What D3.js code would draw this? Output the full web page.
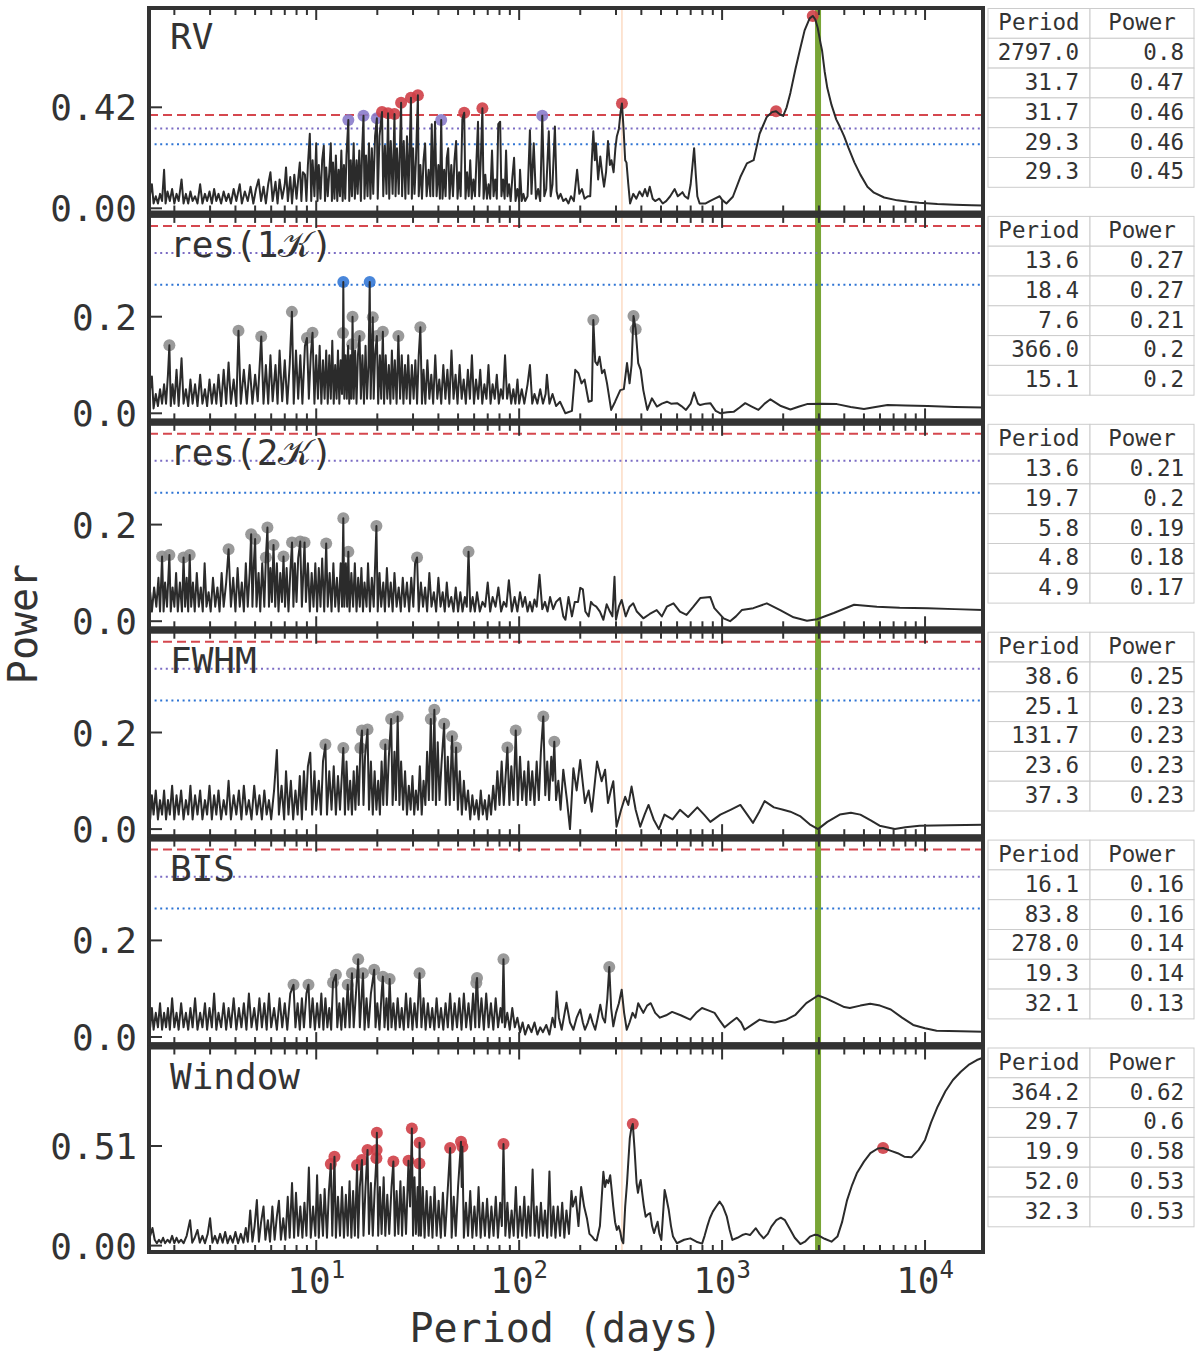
<!DOCTYPE html>
<html>
<head>
<meta charset="utf-8">
<script src="https://cdn.jsdelivr.net/npm/d3@7"></script>
<style>
  body { margin: 0; background: #fff; }
  text { font-family: "DejaVu Sans Mono", monospace; fill: #333; }
</style>
</head>
<body>
<svg id="chart" width="1200" height="1357"></svg>
<script>
// ---- periodogram curves, [period (days), power] ----
const rvCurve = [
[1.5,.03],[1.52,.06],[1.55,.10],[1.58,.02],[1.62,.05],[1.66,.02],[1.7,.06],[1.74,.03],[1.78,.16],[1.81,.02],[1.85,.07],[1.9,.03],[1.95,.08],[2.0,.02],[2.05,.06],[2.1,.03],[2.17,.12],[2.22,.02],[2.28,.06],[2.34,.02],[2.4,.07],[2.46,.03],[2.53,.05],[2.6,.02],[2.68,.10],[2.75,.02],[2.83,.06],[2.9,.03],[2.98,.07],[3.06,.02],[3.14,.08],[3.22,.03],[3.3,.06],[3.4,.02],[3.5,.07],[3.6,.03],[3.7,.06],[3.8,.02],[3.92,.08],[4.04,.03],[4.2,.10],[4.3,.02],[4.45,.07],[4.6,.03],[4.75,.09],[4.9,.02],[5.05,.08],[5.2,.12],[5.35,.03],[5.5,.09],[5.65,.02],[5.8,.10],[5.95,.15],[6.1,.03],[6.3,.11],[6.45,.02],[6.6,.12],[6.8,.04],[7.0,.10],[7.1,.17],[7.25,.03],[7.45,.13],[7.6,.02],[7.8,.14],[8.0,.04],[8.15,.12],[8.3,.19],[8.45,.03],[8.6,.15],[8.8,.14],[8.95,.03],[9.1,.18],[9.3,.31],[9.45,.03],[9.6,.20],[9.8,.05],
[10.0,.27],[10.15,.03],[10.3,.18],[10.5,.04],[10.7,.20],[10.9,.26],[11.05,.03],[11.2,.17],[11.4,.05],[11.6,.15],[11.8,.27],[11.95,.03],[12.1,.19],[12.3,.04],[12.5,.22],[12.7,.03],[12.9,.16],[13.1,.05],[13.3,.24],[13.5,.03],[13.7,.18],[13.9,.04],[14.1,.22],[14.4,.367],[14.55,.03],[14.8,.2],[15.0,.05],[15.3,.27],[15.5,.04],[15.8,.2],[16.0,.06],[16.3,.24],[16.6,.03],[16.85,.25],[17.1,.385],[17.3,.04],[17.6,.22],[17.9,.05],[18.2,.27],[18.5,.04],[18.8,.25],[19.1,.06],[19.5,.3],[19.9,.374],[20.1,.04],[20.5,.3],[21.1,.40],[21.4,.05],[21.8,.26],[22.2,.06],[22.6,.395],[22.9,.04],[23.3,.28],[23.8,.06],[24.3,.392],[24.6,.05],[25.0,.25],[25.5,.06],[26.2,.439],[26.5,.05],[27.0,.28],[27.5,.04],[28.0,.3],[28.5,.06],[29.3,.46],[29.6,.04],[30.0,.25],[30.5,.06],[31.0,.2],[31.7,.47],[32.0,.05],[32.6,.18],[33.2,.04],[33.8,.2],[34.4,.27],[35.0,.05],
[35.8,.16],[36.5,.05],[37.1,.35],[37.7,.05],[38.5,.36],[39.2,.05],[40.0,.18],[40.7,.04],[41.3,.367],[41.9,.04],[42.7,.16],[43.4,.05],[44.0,.21],[44.7,.25],[45.4,.04],[46.3,.18],[47.2,.05],[48.0,.2],[48.9,.28],[49.7,.04],[50.6,.15],[51.5,.05],[52.5,.37],[53.6,.397],[54.4,.04],[55.4,.15],[56.4,.05],[57.4,.2],[58.4,.04],[59.5,.12],[60.6,.05],[61.6,.2],[62.7,.36],[63.6,.05],[64.7,.2],[65.9,.416],[66.8,.04],[68.1,.14],[69.4,.04],[70.7,.1],[72.0,.04],[73.5,.24],[74.8,.05],[76.2,.12],[77.6,.04],[78.9,.35],[80.6,.36],[81.8,.05],[83.3,.12],[84.8,.04],[86.2,.24],[87.6,.05],[89.2,.1],[90.8,.03],[92.6,.13],[94.4,.21],[96.0,.03],[98.0,.08],
[100,.03],[101,.16],[103,.03],[105,.06],[107,.03],[110,.05],[113,.325],[115,.06],[118,.27],[121,.04],[124,.08],[127,.03],[130,.385],[133,.05],[136,.08],[140,.32],[143,.05],[146,.1],[150,.34],[153,.07],[156,.04],[160,.06],[165,.03],[170,.04],[175,.02],[180,.05],[186,.03],[193,.16],[198,.06],[204,.08],[210,.04],[218,.05],[224,.05],[228,.2],[232,.32],[236,.2],[239,.27],[245,.12],[251,.215],[256,.15],[262,.09],[268,.15],[274,.28],[280,.18],[285,.2],[292,.15],[298,.25],[303,.30],[310,.33],[316,.4],[321,.436],[327,.33],[333,.2],[338,.19],[345,.1],[352,.02],[365,.06],[378,.04],[392,.07],[405,.05],[417,.08],[428,.05],[440,.09],[455,.04],[468,.03],[490,.04],[510,.02],[530,.03],[555,.05],[584,.08],[605,.05],[625,.06],[638,.067],[655,.05],[680,.04],[700,.10],[715,.18],[728,.25],[742,.14],[755,.05],[775,.02],[796,.02],[830,.02],[870,.03],[920,.04],[973,.05],
[1000,.035],[1050,.02],[1130,.048],[1230,.13],[1325,.187],[1430,.2],[1530,.31],[1660,.38],[1760,.40],[1845,.404],[1930,.39],[2000,.384],[2080,.42],[2170,.48],[2300,.58],[2420,.66],[2550,.74],[2700,.79],[2797,.80],[2880,.785],[2960,.75],[3050,.69],[3110,.655],[3200,.57],[3300,.5],[3460,.43],[3650,.37],[3800,.34],[3990,.30],[4200,.25],[4490,.19],[4800,.14],[5200,.09],[5600,.065],[6290,.045],[7300,.033],[8300,.027],[9350,.023],[11500,.018],[14000,.015],[17000,.013],[19300,.012]
];

const res1Curve = [
[1.5,.02],[1.52,.05],[1.55,.076],[1.58,.01],[1.62,.04],[1.66,.015],[1.7,.05],[1.74,.02],[1.78,.06],[1.82,.02],[1.86,.08],[1.89,.141],[1.92,.015],[1.96,.06],[2.0,.02],[2.05,.09],[2.1,.015],[2.17,.114],[2.22,.02],[2.28,.05],[2.34,.015],[2.4,.07],[2.46,.02],[2.53,.06],[2.6,.015],[2.68,.08],[2.75,.02],[2.83,.05],[2.9,.015],[2.98,.07],[3.06,.02],[3.14,.06],[3.22,.02],[3.3,.08],[3.4,.015],[3.5,.09],[3.6,.02],[3.7,.105],[3.8,.02],[3.92,.07],[4.04,.015],[4.14,.171],[4.25,.02],[4.4,.09],[4.55,.02],[4.7,.1],[4.85,.02],[5.0,.08],[5.15,.025],[5.36,.159],[5.5,.02],[5.65,.1],[5.8,.02],[5.95,.12],[6.1,.025],[6.3,.1],[6.45,.02],[6.6,.13],[6.8,.025],[7.0,.11],[7.2,.02],[7.4,.1],[7.59,.21],[7.75,.02],[7.95,.13],[8.15,.03],[8.35,.12],[8.55,.02],[8.8,.14],[9.0,.156],[9.2,.03],[9.4,.12],[9.59,.167],[9.8,.02],
[10.0,.12],[10.2,.03],[10.4,.14],[10.6,.02],[10.8,.11],[11.0,.03],[11.2,.13],[11.4,.02],[11.6,.12],[11.8,.03],[12.0,.15],[12.2,.02],[12.4,.1],[12.6,.03],[12.8,.13],[13.0,.02],[13.2,.11],[13.4,.04],[13.55,.166],[13.6,.272],[13.75,.03],[13.95,.12],[14.15,.03],[14.35,.14],[14.55,.02],[14.75,.12],[14.9,.03],[15.05,.143],[15.1,.2],[15.3,.03],[15.55,.13],[15.8,.02],[16.05,.12],[16.35,.16],[16.6,.03],[16.9,.12],[17.2,.02],[17.5,.14],[17.8,.03],[18.1,.1],[18.35,.272],[18.55,.03],[19.0,.199],[19.2,.03],[19.5,.12],[19.9,.16],[20.2,.02],[20.6,.12],[20.9,.03],[21.3,.169],[21.6,.02],[22.0,.12],[22.4,.03],[22.8,.1],[23.2,.02],[23.6,.13],[24.0,.03],[24.4,.11],[24.9,.02],[25.4,.16],[25.9,.03],[26.4,.12],[26.9,.02],[27.4,.1],[27.9,.03],[28.4,.12],[29.0,.02],[29.6,.1],[30.2,.03],[30.8,.11],[31.4,.02],[32.0,.12],[32.6,.178],[33.2,.02],
[33.8,.09],[34.5,.02],[35.3,.11],[36.1,.03],[36.9,.08],[37.7,.02],[38.6,.12],[39.5,.03],[40.4,.07],[41.3,.02],[42.3,.1],[43.3,.03],[44.3,.09],[45.3,.02],[46.4,.13],[47.5,.03],[48.6,.08],[49.7,.02],[50.9,.1],[52.1,.03],[53.3,.07],[54.6,.02],[55.9,.09],[57.2,.03],[58.5,.12],[59.9,.02],[61.3,.07],[62.8,.03],[64.3,.09],[65.8,.02],[67.4,.06],[69,.03],[70.6,.1],[72.3,.02],[74,.06],[75.8,.03],[77.6,.08],[79.4,.02],[81.3,.05],[83.2,.03],[85.2,.12],[87.2,.03],[89.3,.06],[91.4,.02],[93.6,.05],[95.8,.02],[98.1,.07],
[100,.02],[103,.05],[106,.02],[110,.06],[113,.1],[116,.02],[119,.04],[123,.02],[127,.05],[131,.02],[135,.04],[137,.08],[141,.02],[146,.04],[152,.015],[159,.024],[169,.0],[182,.005],[189,.09],[196,.083],[203,.062],[210,.07],[220,.024],[228,.026],[232,.193],[237,.107],[243,.1],[249,.117],[256,.083],[263,.09],[271,.062],[284,.007],[297,.024],[315,.048],[328,.05],[340,.104],[350,.062],[358,.1],[366,.2015],[375,.174],[386,.104],[397,.09],[409,.048],[428,.007],[451,.031],[477,.014],[505,.02],[535,.024],[560,.02],[600,.021],[630,.015],[664,.007],[700,.02],[728,.043],[760,.02],[780,.017],[830,.02],[875,.021],[930,.005],[982,.0],
[1060,.002],[1140,.003],[1220,.012],[1300,.021],[1400,.014],[1510,.007],[1620,.02],[1730,.029],[1950,.015],[2170,.008],[2400,.014],[2620,.019],[3100,.02],[3680,.019],[4300,.013],[5000,.009],[5700,.013],[6530,.017],[8000,.016],[10300,.015],[14000,.013],[19300,.012]
];

const res2Curve = [
[1.5,.03],[1.52,.06],[1.55,.02],[1.59,.07],[1.63,.03],[1.67,.09],[1.7,.02],[1.74,.134],[1.77,.02],[1.8,.08],[1.84,.03],[1.89,.137],[1.92,.02],[1.96,.07],[2.0,.03],[2.04,.1],[2.08,.02],[2.13,.08],[2.18,.02],[2.22,.132],[2.26,.03],[2.3,.09],[2.34,.02],[2.38,.137],[2.42,.03],[2.47,.08],[2.52,.02],[2.58,.1],[2.64,.03],[2.7,.07],[2.76,.02],[2.82,.12],[2.88,.03],[2.95,.06],[3.02,.02],[3.1,.09],[3.18,.03],[3.26,.07],[3.34,.02],[3.42,.1],[3.5,.03],[3.6,.08],[3.7,.149],[3.8,.03],[3.9,.09],[4.0,.02],[4.1,.11],[4.2,.03],[4.3,.08],[4.4,.02],[4.5,.12],[4.6,.03],[4.7,.1],[4.78,.18],[4.85,.03],[4.93,.12],[5.0,.17],[5.08,.03],[5.2,.1],[5.3,.02],[5.42,.12],[5.55,.03],[5.65,.132],[5.75,.194],[5.85,.03],[5.95,.11],[6.05,.04],[6.16,.158],[6.28,.03],[6.4,.12],[6.52,.02],[6.65,.1],[6.78,.04],[6.9,.134],[7.02,.03],[7.15,.11],[7.3,.02],[7.45,.1],[7.6,.163],[7.72,.03],[7.85,.12],[8.0,.04],[8.15,.13],[8.34,.165],[8.5,.03],[8.76,.163],[8.9,.04],[9.1,.12],[9.3,.02],[9.5,.1],[9.7,.03],[9.9,.12],
[10.1,.02],[10.3,.11],[10.5,.03],[10.7,.13],[10.95,.02],[11.2,.161],[11.4,.03],[11.65,.1],[11.9,.02],[12.15,.12],[12.4,.03],[12.65,.09],[12.9,.02],[13.2,.12],[13.4,.03],[13.6,.213],[13.75,.03],[14.0,.12],[14.2,.03],[14.4,.144],[14.6,.02],[14.9,.1],[15.2,.03],[15.5,.12],[15.8,.02],[16.1,.09],[16.4,.03],[16.7,.11],[17.0,.02],[17.3,.08],[17.7,.03],[18.0,.12],[18.4,.02],[18.8,.09],[19.2,.03],[19.8,.197],[20.1,.02],[20.5,.1],[20.9,.03],[21.4,.08],[21.8,.02],[22.3,.11],[22.8,.03],[23.3,.08],[23.8,.02],[24.3,.1],[24.9,.03],[25.5,.07],[26.1,.02],[26.7,.09],[27.3,.03],[28,.08],[28.7,.02],[29.4,.09],[30.1,.03],[30.7,.12],[31.4,.132],[32,.02],[32.8,.08],[33.6,.03],[34.4,.07],[35.2,.02],[36.1,.1],[37,.03],[38,.06],[39,.02],[40,.09],[41,.03],[42,.06],[43,.02],[44,.08],[45,.03],[46.3,.05],[47.5,.02],[48.7,.07],[50,.02],[51.3,.06],[52.6,.02],[54,.05],[55.2,.03],[56.3,.144],[57.5,.02],[59,.05],[60.5,.02],[62,.06],[64,.02],[66,.04],[68,.03],[70,.08],[72,.02],[74,.05],[76.5,.03],[79,.07],[81.5,.02],[84,.04],[86.5,.03],[89,.085],[92,.02],[95,.05],[98,.02],
[101,.06],[104,.03],[107,.05],[110,.02],[113,.04],[116,.02],[119,.045],[122,.03],[126,.096],[130,.025],[134,.04],[138,.02],[142,.05],[147,.025],[152,.04],[159,.048],[165,.01],[169,.003],[175,.05],[182,.01],[188,.04],[195,.04],[200,.069],[206,.066],[212,.02],[220,.01],[226,.04],[232,.034],[240,.03],[250,.02],[260,.003],[270,.035],[280,.02],[288,.01],[295,.092],[300,.003],[310,.03],[320,.044],[335,.01],[350,.03],[365,.037],[380,.02],[409,.006],[440,.015],[476,.023],[505,.01],[534,.03],[576,.037],[620,.02],[668,.013],[722,.03],[780,.048],[875,.05],[916,.027],
[1017,.006],[1095,.0],[1170,.01],[1250,.023],[1425,.027],[1661,.037],[1933,.023],[2250,.008],[2619,.001],[2937,.004],[3550,.017],[4470,.034],[5790,.03],[7500,.028],[10300,.027],[14000,.025],[19300,.023]
];

const fwhmCurve = [
[1.5,.05],[1.52,.02],[1.55,.07],[1.58,.03],[1.62,.08],[1.66,.02],[1.7,.06],[1.74,.03],[1.78,.08],[1.82,.02],[1.86,.06],[1.9,.03],[1.95,.09],[2.0,.02],[2.05,.07],[2.1,.03],[2.16,.08],[2.22,.02],[2.28,.06],[2.34,.03],[2.4,.09],[2.46,.02],[2.53,.07],[2.6,.03],[2.68,.08],[2.75,.02],[2.83,.06],[2.9,.03],[2.98,.09],[3.06,.02],[3.14,.07],[3.22,.03],[3.3,.08],[3.4,.02],[3.5,.06],[3.6,.03],[3.7,.1],[3.8,.02],[3.92,.07],[4.04,.03],[4.16,.08],[4.28,.02],[4.4,.09],[4.53,.03],[4.66,.06],[4.8,.02],[4.95,.09],[5.1,.03],[5.25,.07],[5.4,.02],[5.55,.08],[5.7,.03],[5.85,.06],[6.0,.02],[6.2,.08],[6.4,.164],[6.55,.03],[6.75,.09],[6.95,.02],[7.1,.12],[7.3,.03],[7.5,.1],[7.7,.02],[7.9,.08],[8.1,.03],[8.3,.11],[8.5,.02],[8.7,.12],[8.9,.04],[9.1,.13],[9.35,.158],[9.55,.03],[9.8,.12],
[10.0,.04],[10.3,.1],[10.55,.03],[10.8,.14],[11.1,.175],[11.3,.03],[11.6,.12],[11.9,.04],[12.2,.13],[12.5,.03],[12.8,.11],[13.1,.04],[13.6,.168],[13.85,.03],[14.1,.14],[14.4,.04],[14.7,.1],[15.0,.03],[15.3,.12],[15.6,.04],[15.9,.13],[16.2,.05],[16.5,.168],[16.8,.204],[17.1,.05],[17.4,.15],[17.9,.206],[18.2,.04],[18.6,.14],[19.0,.03],[19.4,.12],[19.8,.04],[20.2,.1],[20.6,.03],[21.0,.14],[21.4,.05],[21.9,.175],[22.3,.05],[22.8,.15],[23.4,.228],[23.8,.05],[24.3,.16],[24.7,.06],[25.2,.233],[25.7,.05],[26.2,.14],[26.8,.04],[27.4,.12],[28,.03],[28.6,.09],[29.2,.04],[29.8,.11],[30.4,.03],[31,.08],[31.7,.04],[32.4,.13],[33.1,.03],[33.8,.1],[34.5,.05],[35.2,.16],[35.9,.06],[36.7,.228],[37.5,.06],[38.2,.247],[38.9,.05],[39.7,.18],[40.5,.06],[41.5,.14],[42.7,.218],[43.5,.05],[44.5,.15],[45.5,.05],[46.7,.192],[47.7,.06],[48.9,.169],[49.9,.04],[51,.12],[52.2,.03],[53.4,.1],[54.6,.04],[56,.08],[57.4,.02],[58.8,.07],[60.2,.03],[61.7,.06],[63.2,.02],[64.7,.08],[66.2,.03],[67.8,.06],[69.4,.02],[71,.07],[72.7,.03],[74.5,.09],[76.3,.04],[78.1,.12],[80,.05],[82,.14],[84,.05],[85.5,.1],[87.5,.169],[89.5,.05],[91.5,.13],[93.8,.06],[96.2,.204],[98.5,.05],
[101,.15],[103.5,.06],[106,.12],[108.5,.05],[111,.14],[113.5,.06],[116,.12],[119,.05],[122,.14],[125,.06],[128,.16],[131.5,.233],[134.5,.07],[137.5,.14],[140.5,.06],[144,.15],[146.5,.1],[149,.181],[152,.06],[156,.1],[160,.04],[165,.123],[172,.06],[178,.0],[185,.126],[192,.08],[200,.143],[211,.054],[220,.08],[228,.036],[242,.14],[255,.099],[265,.123],[274,.054],[283,.08],[291,.099],[302,.005],[318,.04],[333,.067],[345,.05],[358,.088],[375,.04],[395,.005],[415,.03],[434,.05],[460,.02],[488,.0],[520,.03],[570,.02],[620,.04],[680,.025],[755,.045],[815,.03],[875,.015],[980,.03],
[1100,.04],[1230,.05],[1330,.03],[1420,.013],[1520,.035],[1620,.058],[1800,.045],[2000,.04],[2170,.036],[2420,.027],[2700,.01],[2970,.0],[3300,.015],[3800,.03],[4310,.034],[4800,.03],[5400,.018],[5970,.007],[7100,.0],[8000,.004],[9400,.007],[13000,.008],[19300,.009]
];

const bisCurve = [
[1.5,.04],[1.52,.02],[1.55,.06],[1.58,.015],[1.62,.05],[1.66,.02],[1.7,.07],[1.74,.015],[1.78,.05],[1.82,.02],[1.86,.06],[1.9,.015],[1.95,.08],[2.0,.02],[2.05,.05],[2.1,.015],[2.16,.07],[2.22,.02],[2.28,.05],[2.34,.015],[2.4,.06],[2.46,.02],[2.53,.08],[2.6,.015],[2.68,.05],[2.75,.02],[2.83,.07],[2.9,.015],[2.98,.06],[3.06,.02],[3.14,.09],[3.22,.015],[3.3,.05],[3.4,.02],[3.5,.07],[3.6,.015],[3.7,.06],[3.8,.02],[3.92,.08],[4.04,.015],[4.16,.06],[4.28,.02],[4.4,.07],[4.53,.015],[4.66,.09],[4.8,.02],[4.95,.06],[5.1,.015],[5.25,.08],[5.4,.02],[5.55,.07],[5.7,.015],[5.85,.09],[6.0,.02],[6.2,.06],[6.4,.015],[6.6,.08],[6.8,.02],[7.0,.07],[7.2,.015],[7.45,.09],[7.73,.108],[7.9,.02],[8.1,.07],[8.3,.015],[8.5,.08],[8.7,.02],[8.95,.09],[9.16,.108],[9.35,.02],[9.6,.08],[9.85,.015],
[10.1,.07],[10.35,.02],[10.6,.09],[10.85,.015],[11.1,.08],[11.35,.02],[11.6,.06],[11.85,.015],[12.1,.113],[12.5,.129],[12.7,.02],[13.0,.07],[13.3,.015],[13.6,.08],[13.9,.02],[14.3,.108],[14.6,.02],[15.0,.132],[15.3,.02],[15.7,.09],[16.1,.161],[16.4,.02],[17.0,.132],[17.3,.015],[17.7,.08],[18.1,.02],[18.6,.09],[19.3,.139],[19.6,.02],[20.0,.07],[20.5,.015],[21.0,.09],[21.3,.125],[21.7,.02],[22.2,.08],[22.6,.015],[23.0,.12],[23.5,.02],[24.0,.07],[24.6,.015],[25.2,.08],[25.8,.02],[26.4,.06],[27,.015],[27.7,.09],[28.4,.02],[29.1,.08],[29.8,.015],[30.5,.07],[31.3,.02],[32.3,.132],[33,.02],[33.8,.08],[34.6,.015],[35.5,.07],[36.4,.02],[37.3,.06],[38.2,.015],[39.2,.08],[40.2,.02],[41.2,.06],[42.3,.015],[43.4,.07],[44.5,.02],[45.7,.09],[46.9,.015],[48.1,.07],[49.4,.02],[50.7,.08],[52,.015],[53.4,.09],[54.8,.02],[56.3,.07],[57.8,.015],[59.3,.09],[60.8,.02],[61.5,.112],[62,.122],[63.5,.02],[65.2,.08],[67,.015],[68.8,.09],[70.7,.02],[72.6,.07],[74.6,.015],[76.6,.08],[78.7,.02],[80.9,.06],[82.5,.03],[83.7,.161],[85,.02],[87.4,.05],[89.9,.015],[92.5,.06],[95.2,.02],[98,.04],
[101,.01],[104,.03],[107,.005],[111,.025],[115,.01],[119,.03],[123,.005],[127,.02],[131,.01],[136,.025],[141,.005],[146,.04],[150,.02],[153,.094],[157,.04],[162,.015],[166,.04],[171,.071],[178,.03],[185,.015],[192,.04],[200,.057],[206,.03],[211,.015],[218,.03],[224,.047],[230,.03],[237,.015],[244,.04],[251,.067],[258,.04],[265,.03],[272,.08],[278,.145],[284,.06],[291,.022],[300,.05],[310,.07],[320,.098],[329,.05],[339,.015],[350,.03],[362,.05],[374,.04],[386,.07],[397,.06],[409,.05],[427,.065],[445,.07],[468,.05],[494,.04],[530,.045],[567,.052],[625,.045],[697,.036],[745,.05],[796,.06],[855,.055],[918,.05],[970,.035],
[1030,.02],[1100,.03],[1180,.04],[1240,.03],[1290,.015],[1400,.025],[1530,.036],[1670,.032],[1820,.03],[2050,.035],[2300,.046],[2600,.07],[2970,.086],[3250,.08],[3600,.071],[4000,.062],[4260,.06],[4800,.065],[5370,.069],[6000,.065],[6780,.057],[7700,.04],[8740,.025],[10000,.018],[11400,.013],[15000,.012],[19300,.011]
];

const windowCurve = [
[1.5,.03],[1.53,.06],[1.56,.09],[1.6,.03],[1.64,.012],[1.68,.03],[1.72,.015],[1.76,.04],[1.8,.012],[1.85,.03],[1.9,.015],[1.95,.05],[2.0,.012],[2.05,.04],[2.1,.015],[2.16,.03],[2.22,.012],[2.3,.05],[2.39,.13],[2.45,.015],[2.52,.04],[2.6,.08],[2.67,.015],[2.75,.05],[2.83,.012],[2.92,.06],[3.0,.14],[3.08,.015],[3.17,.05],[3.26,.012],[3.36,.06],[3.46,.015],[3.56,.07],[3.66,.012],[3.77,.05],[3.88,.015],[4.0,.07],[4.12,.012],[4.25,.06],[4.38,.015],[4.5,.09],[4.6,.02],[4.73,.18],[4.85,.02],[4.97,.1],[5.1,.233],[5.22,.02],[5.35,.12],[5.5,.2],[5.62,.03],[5.78,.13],[5.92,.02],[6.08,.2],[6.24,.03],[6.4,.15],[6.55,.23],[6.7,.03],[6.88,.14],[7.05,.03],[7.24,.25],[7.4,.04],[7.6,.32],[7.78,.04],[7.95,.27],[8.15,.05],[8.35,.2],[8.55,.04],[8.75,.22],[8.95,.05],[9.2,.4],[9.4,.04],[9.65,.2],[9.9,.05],
[10.1,.36],[10.3,.04],[10.5,.26],[10.8,.05],[11.0,.29],[11.3,.04],[11.55,.28],[11.8,.418],[12.0,.05],[12.3,.455],[12.5,.04],[12.8,.25],[13.1,.05],[13.4,.3],[13.7,.04],[14.0,.26],[14.3,.05],[14.6,.33],[14.9,.04],[15.2,.28],[15.5,.05],[15.9,.413],[16.1,.04],[16.4,.3],[16.8,.438],[17.1,.05],[17.5,.3],[17.9,.49],[18.2,.06],[18.6,.32],[19.0,.05],[19.4,.28],[19.8,.447],[19.85,.49],[19.9,.578],[20.2,.05],[20.6,.3],[21.0,.06],[21.5,.35],[21.9,.05],[22.4,.26],[22.9,.06],[23.5,.3],[24.0,.43],[24.4,.05],[24.9,.28],[25.4,.06],[26.0,.33],[26.5,.05],[27.0,.3],[27.7,.06],[28.5,.435],[29.0,.2],[29.6,.60],[30.0,.05],[30.5,.35],[31.0,.06],[31.6,.3],[32.0,.05],[32.25,.42],[32.3,.527],[32.8,.05],[33.5,.3],[34.2,.04],[35,.28],[35.8,.05],[36.6,.25],[37.4,.04],[38.3,.3],[39.2,.05],[40.1,.23],[41.1,.04],[42.1,.27],[43.1,.05],[44.1,.22],[45.7,.50],[46.5,.04],[47.6,.25],[48.7,.05],[50,.3],[51.7,.532],[52.1,.3],[52.5,.506],[53.4,.04],[54.7,.22],[56,.05],[57.4,.28],[58.8,.04],[60.2,.2],[61.6,.05],[63.1,.3],[64.6,.04],[66.2,.22],[67.8,.05],[69.5,.24],[71.2,.04],[73,.2],[74.8,.05],[76.7,.25],[78.6,.04],[80.6,.22],[82.2,.1],[83.7,.52],[85.5,.05],[87.5,.22],[89.6,.04],[91.8,.18],[94,.05],[96.3,.3],[98.6,.04],
[101,.2],[103.5,.05],[106,.25],[108.6,.04],[111,.2],[113.6,.05],[116.5,.39],[119.3,.05],[122,.2],[125,.04],[128,.22],[131,.05],[134,.18],[137.5,.04],[141,.38],[144,.05],[147.5,.2],[151,.04],[155,.2],[159,.05],[163,.22],[167,.04],[171,.18],[176,.06],[181,.28],[184,.2],[190,.25],[196,.1],[202,.30],[209,.2],[216,.137],[222,.06],[229,.046],[235,.03],[241,.026],[250,.1],[260,.378],[265,.3],[270,.336],[275,.32],[281,.36],[286,.28],[291,.2],[297,.12],[303,.08],[309,.1],[315,.07],[320,.03],[326,.012],[333,.2],[340,.32],[346,.45],[351,.55],[357,.6],[363,.623],[370,.5],[379,.32],[385,.27],[391,.31],[397,.336],[405,.26],[412,.2],[420,.148],[431,.16],[442,.167],[452,.1],[462,.064],[470,.09],[481,.122],[491,.06],[502,.029],[511,.15],[521,.285],[530,.25],[546,.182],[560,.1],[573,.046],[599,.012],[650,.03],[697,.037],[747,.02],[797,.01],[820,.05],[844,.097],[870,.14],[900,.174],[935,.2],[972,.225],
[1010,.2],[1055,.148],[1090,.08],[1124,.029],[1190,.04],[1257,.054],[1310,.06],[1372,.054],[1466,.089],[1530,.06],[1601,.037],[1680,.06],[1749,.097],[1850,.13],[1946,.143],[2040,.13],[2127,.097],[2280,.04],[2430,.008],[2560,.02],[2711,.046],[2850,.055],[2964,.054],[3200,.035],[3460,.02],[3700,.046],[3900,.12],[4130,.233],[4370,.31],[4610,.37],[5000,.43],[5380,.473],[5850,.497],[6210,.50],[6800,.485],[7330,.473],[7900,.455],[8580,.452],[9300,.49],[10000,.541],[10700,.63],[11530,.711],[12600,.79],[13720,.848],[15000,.89],[16380,.925],[18000,.95],[19300,.962]
];

// ---- highlighted peaks [period, power] ----
const rvPeaks = [[14.4,.367],[17.1,.385],[19.9,.374],[21.1,.40],[22.6,.395],[24.3,.392],[26.2,.439],[29.3,.46],[31.7,.47],[41.3,.367],[53.6,.397],[65.9,.416],[130,.385],[321,.436],[1845,.404],[2797,.80]];
const res1Peaks = [[1.89,.141],[4.14,.171],[5.36,.159],[7.59,.21],[9.0,.156],[9.59,.167],[13.55,.166],[13.6,.272],[15.05,.143],[15.1,.2],[16.35,.16],[18.35,.272],[19.0,.199],[19.9,.16],[21.3,.169],[25.4,.16],[32.6,.178],[232,.193],[366,.2015],[375,.174]];
const res2Peaks = [[1.74,.134],[1.89,.137],[2.22,.132],[2.38,.137],[3.7,.149],[4.78,.18],[5.0,.17],[5.65,.132],[5.75,.194],[6.16,.158],[6.9,.134],[7.6,.163],[8.34,.165],[8.76,.163],[11.2,.161],[13.6,.213],[14.4,.144],[19.8,.197],[31.4,.132],[56.3,.144]];
const fwhmPeaks = [[11.1,.175],[13.6,.168],[16.5,.168],[16.8,.204],[17.9,.206],[21.9,.175],[23.4,.228],[25.2,.233],[36.7,.228],[38.2,.247],[42.7,.218],[46.7,.192],[48.9,.169],[87.5,.169],[96.2,.204],[131.5,.233],[149,.181]];
const bisPeaks = [[7.73,.108],[9.16,.108],[12.1,.113],[12.5,.129],[14.3,.108],[15.0,.132],[16.1,.161],[17.0,.132],[19.3,.139],[21.3,.125],[23.0,.12],[32.3,.132],[61.5,.112],[62,.122],[83.7,.161],[278,.145]];
const windowPeaks = [[11.8,.418],[12.3,.455],[15.9,.413],[16.8,.438],[17.9,.49],[19.8,.447],[19.85,.49],[19.9,.578],[24.0,.43],[28.5,.435],[29.6,.60],[32.25,.42],[32.3,.527],[45.7,.50],[51.7,.532],[52.5,.506],[83.7,.52],[363,.623],[6210,.50]];

// ---- top-5 tables ----
const tableHeader = ["Period", "Power"];
const rvTable = [["2797.0","0.8"],["31.7","0.47"],["31.7","0.46"],["29.3","0.46"],["29.3","0.45"]];
const res1Table = [["13.6","0.27"],["18.4","0.27"],["7.6","0.21"],["366.0","0.2"],["15.1","0.2"]];
const res2Table = [["13.6","0.21"],["19.7","0.2"],["5.8","0.19"],["4.8","0.18"],["4.9","0.17"]];
const fwhmTable = [["38.6","0.25"],["25.1","0.23"],["131.7","0.23"],["23.6","0.23"],["37.3","0.23"]];
const bisTable = [["16.1","0.16"],["83.8","0.16"],["278.0","0.14"],["19.3","0.14"],["32.1","0.13"]];
const windowTable = [["364.2","0.62"],["29.7","0.6"],["19.9","0.58"],["52.0","0.53"],["32.3","0.53"]];

// ---- levels and reference periods ----
const fapLevels = [0.388, 0.332, 0.266];
const referencePeriod = 2970;   // green band
const yearLinePeriod = 321;     // thin orange line
const panelLabels = ["RV", "res(1\u{1D4A6})", "res(2\u{1D4A6})", "FWHM", "BIS", "Window"];

// layout
const plotLeft = 149, plotRight = 983;
const firstTop = 8, panelStep = 207.9, panelH = 204.5;
const ink = "#333";

const panels = [
  {label: panelLabels[0], curve: rvCurve,     peaks: rvPeaks,     table: rvTable,     y: [-0.0175, 0.833], ticks: [0, 0.42], fmt: ".2f", fap: true},
  {label: panelLabels[1], curve: res1Curve,   peaks: res1Peaks,   table: res1Table,   y: [-0.0147, 0.4087], ticks: [0, 0.2], fmt: ".1f", fap: true},
  {label: panelLabels[2], curve: res2Curve,   peaks: res2Peaks,   table: res2Table,   y: [-0.0147, 0.4087], ticks: [0, 0.2], fmt: ".1f", fap: true},
  {label: panelLabels[3], curve: fwhmCurve,   peaks: fwhmPeaks,   table: fwhmTable,   y: [-0.0147, 0.4087], ticks: [0, 0.2], fmt: ".1f", fap: true},
  {label: panelLabels[4], curve: bisCurve,    peaks: bisPeaks,    table: bisTable,    y: [-0.0147, 0.4087], ticks: [0, 0.2], fmt: ".1f", fap: true},
  {label: panelLabels[5], curve: windowCurve, peaks: windowPeaks, table: windowTable, y: [-0.0328, 1.0143], ticks: [0, 0.51], fmt: ".2f", fap: false}
];

const fapStyle = [
  {color: "#d5474e", dash: "9,5"},
  {color: "#7b6cc4", dash: "2,3.6"},
  {color: "#2e74d4", dash: "2,3.6"}
];
function peakColor(v) {
  if (v > fapLevels[0]) return "#cf3f47";
  if (v > fapLevels[1]) return "#8a7ccb";
  if (v > fapLevels[2]) return "#3579d6";
  return "#8f8f8f";
}

const svg = d3.select("#chart");
const x = d3.scaleLog().domain([1.5, 19300]).range([plotLeft, plotRight]);
const allTicks = x.ticks().filter(t => t >= 1.5 && t <= 19300);
const isDecade = t => Math.abs(Math.log10(t) - Math.round(Math.log10(t))) < 1e-9;

const figTop = firstTop, figBottom = firstTop + 5 * panelStep + panelH;

// vertical reference lines across all panels (behind everything)
svg.append("line")
  .attr("x1", x(yearLinePeriod)).attr("x2", x(yearLinePeriod))
  .attr("y1", figTop).attr("y2", figBottom)
  .attr("stroke", "#fbd6bb").attr("stroke-width", 1.3);
svg.append("line")
  .attr("x1", x(referencePeriod)).attr("x2", x(referencePeriod))
  .attr("y1", figTop).attr("y2", figBottom)
  .attr("stroke", "#79a536").attr("stroke-width", 6);

const line = d3.line().x(d => x(d[0]));

panels.forEach((p, i) => {
  const top = firstTop + i * panelStep;
  const bottom = top + panelH;
  const y = d3.scaleLinear().domain(p.y).range([bottom, top]);
  const g = svg.append("g");

  g.append("clipPath").attr("id", "clip" + i)
    .append("rect").attr("x", plotLeft).attr("y", top).attr("width", plotRight - plotLeft).attr("height", panelH);
  const body = g.append("g").attr("clip-path", `url(#clip${i})`);

  // false-alarm levels
  if (p.fap) {
    fapLevels.forEach((lv, k) => {
      body.append("line")
        .attr("x1", plotLeft).attr("x2", plotRight)
        .attr("y1", y(lv)).attr("y2", y(lv))
        .attr("stroke", fapStyle[k].color).attr("stroke-width", 2)
        .attr("stroke-dasharray", fapStyle[k].dash);
    });
  }

  // peak markers (under the curve)
  body.selectAll("circle").data(p.peaks).join("circle")
    .attr("cx", d => x(d[0])).attr("cy", d => y(d[1])).attr("r", 6)
    .attr("fill", d => peakColor(d[1])).attr("fill-opacity", 0.9);

  // periodogram
  body.append("path").datum(p.curve)
    .attr("d", line.y(d => y(d[1])))
    .attr("fill", "none").attr("stroke", "#2b2b2b")
    .attr("stroke-width", 2).attr("stroke-linejoin", "round");

  // frame
  g.append("rect")
    .attr("x", plotLeft).attr("y", top).attr("width", plotRight - plotLeft).attr("height", panelH)
    .attr("fill", "none").attr("stroke", ink).attr("stroke-width", 4);

  // x ticks, inward on top and bottom
  allTicks.forEach(t => {
    const len = isDecade(t) ? 12 : 7;
    g.append("line").attr("x1", x(t)).attr("x2", x(t)).attr("y1", top).attr("y2", top + len)
      .attr("stroke", ink).attr("stroke-width", 2);
    g.append("line").attr("x1", x(t)).attr("x2", x(t)).attr("y1", bottom).attr("y2", bottom - len)
      .attr("stroke", ink).attr("stroke-width", 2);
  });

  // y ticks + labels
  const fmt = d3.format(p.fmt);
  p.ticks.forEach(t => {
    g.append("line").attr("x1", plotLeft).attr("x2", plotLeft + 13).attr("y1", y(t)).attr("y2", y(t))
      .attr("stroke", ink).attr("stroke-width", 2);
    g.append("text").attr("x", 137).attr("y", y(t) + 13).attr("text-anchor", "end")
      .attr("font-size", 36).text(fmt(t));
  });

  // panel label
  g.append("text").attr("x", 170).attr("y", top + 41).attr("font-size", 36).text(p.label);

  // table of strongest peaks
  const tblLeft = 988, tblSplit = 1090, tblRight = 1194, rowH = 29.8;
  const tg = svg.append("g");
  const rows = [tableHeader].concat(p.table);
  rows.forEach((r, k) => {
    const ry = top + 0.5 + k * rowH;
    tg.append("rect").attr("x", tblLeft).attr("y", ry).attr("width", tblSplit - tblLeft).attr("height", rowH)
      .attr("fill", "#fff").attr("stroke", "#cccccc").attr("stroke-width", 1);
    tg.append("rect").attr("x", tblSplit).attr("y", ry).attr("width", tblRight - tblSplit).attr("height", rowH)
      .attr("fill", "#fff").attr("stroke", "#cccccc").attr("stroke-width", 1);
    if (k === 0) {
      tg.append("text").attr("x", (tblLeft + tblSplit) / 2).attr("y", ry + 21.5).attr("text-anchor", "middle")
        .attr("font-size", 22.5).text(r[0]);
      tg.append("text").attr("x", (tblSplit + tblRight) / 2).attr("y", ry + 21.5).attr("text-anchor", "middle")
        .attr("font-size", 22.5).text(r[1]);
    } else {
      tg.append("text").attr("x", tblSplit - 11).attr("y", ry + 21.8).attr("text-anchor", "end")
        .attr("font-size", 22.5).text(r[0]);
      tg.append("text").attr("x", tblRight - 10).attr("y", ry + 21.8).attr("text-anchor", "end")
        .attr("font-size", 22.5).text(r[1]);
    }
  });
});

// x tick labels (decades as 10^n)
allTicks.filter(isDecade).forEach(t => {
  const txt = svg.append("text").attr("x", x(t)).attr("y", figBottom + 41)
    .attr("text-anchor", "middle").attr("font-size", 36);
  txt.append("tspan").text("10");
  txt.append("tspan").attr("font-size", 24).attr("dy", -15).text(Math.round(Math.log10(t)));
});

// axis titles
svg.append("text").attr("x", (plotLeft + plotRight) / 2).attr("y", 1342)
  .attr("text-anchor", "middle").attr("font-size", 40).text("Period (days)");
svg.append("text").attr("transform", "translate(37,624) rotate(-90)")
  .attr("text-anchor", "middle").attr("font-size", 40).text("Power");
</script>
</body>
</html>
